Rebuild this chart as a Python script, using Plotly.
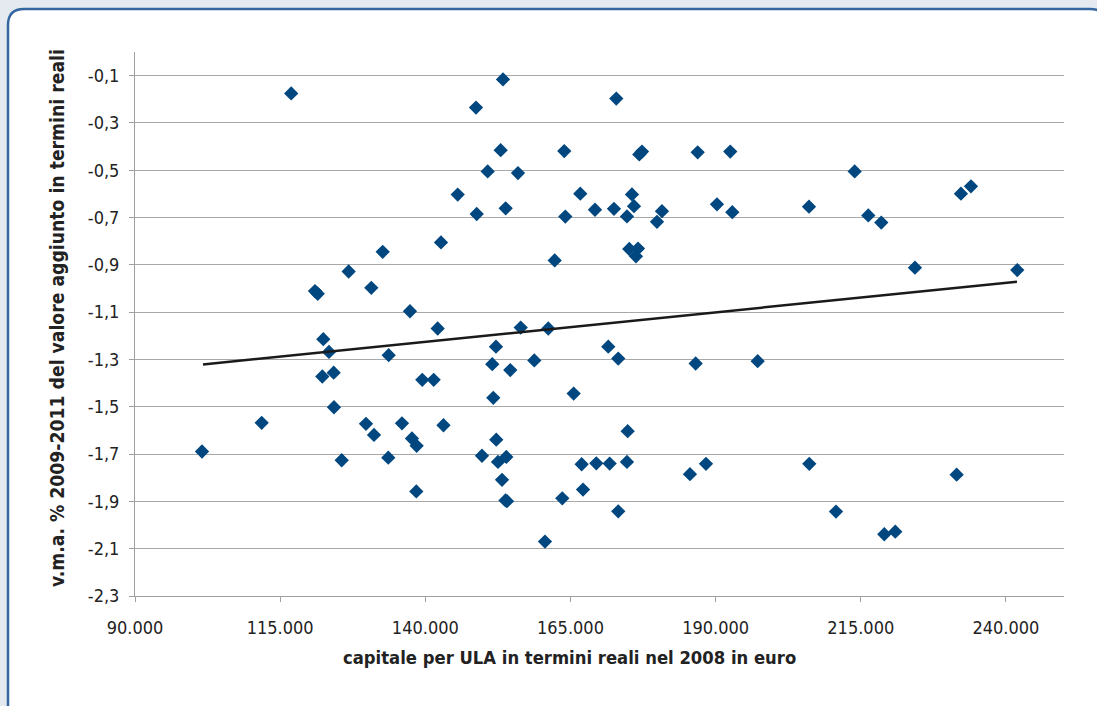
import plotly.graph_objects as go

# capitale per ULA (euro, 2008) and v.m.a. % 2009-2011
capitale = [116900, 121000, 121470, 126800, 132660, 130700, 137360, 142130, 142700,
            122430, 123410, 122260, 124220, 124270, 133690, 139480, 141440, 111820,
            101540, 129780, 131160, 135980, 137700, 138510, 125600, 133620, 138450,
            143130, 153380, 148730, 172890, 152980, 163930, 176850, 177320, 186910,
            192520, 150740, 155960, 145580, 166690, 175590, 148850, 153840, 164110,
            169220, 172490, 175940, 174730, 180760, 179900, 190230, 192870, 162280,
            175130, 176630, 176280, 156430, 161180, 152170, 151530, 154630, 158770,
            171510, 173230, 186560, 151710, 165550, 152220, 174850, 149760, 152520,
            153950, 166930, 169450, 171750, 174730, 185580, 188340, 153210, 167160,
            154070, 153810, 163590, 173230, 160610, 206080, 213950, 216290, 218530,
            232250, 233980, 224330, 241950, 197240, 206130, 210730, 219050, 220940,
            231510]
vma = [-0.175, -1.011, -1.022, -0.928, -0.845, -0.997, -1.096, -1.169, -0.805,
       -1.214, -1.268, -1.372, -1.356, -1.502, -1.282, -1.386, -1.386, -1.568,
       -1.689, -1.572, -1.619, -1.570, -1.634, -1.665, -1.726, -1.715, -1.858,
       -1.578, -0.116, -0.235, -0.197, -0.415, -0.419, -0.433, -0.421, -0.424,
       -0.421, -0.505, -0.512, -0.603, -0.599, -0.602, -0.685, -0.661, -0.696,
       -0.667, -0.663, -0.652, -0.695, -0.673, -0.718, -0.644, -0.677, -0.881,
       -0.833, -0.831, -0.864, -1.165, -1.169, -1.246, -1.320, -1.345, -1.304,
       -1.246, -1.296, -1.317, -1.462, -1.444, -1.639, -1.603, -1.707, -1.733,
       -1.712, -1.743, -1.739, -1.740, -1.733, -1.785, -1.741, -1.809, -1.850,
       -1.899, -1.896, -1.887, -1.942, -2.070, -0.654, -0.505, -0.691, -0.721,
       -0.599, -0.568, -0.912, -0.922, -1.307, -1.741, -1.943, -2.039, -2.028,
       -1.787]

trend_x = [101700, 241900]
trend_y = [-1.321, -0.971]

x_tickvals = [90000, 115000, 140000, 165000, 190000, 215000, 240000]
x_ticktext = ["90.000", "115.000", "140.000", "165.000", "190.000", "215.000", "240.000"]
y_tickvals = [-2.3, -2.1, -1.9, -1.7, -1.5, -1.3, -1.1, -0.9, -0.7, -0.5, -0.3, -0.1]
y_ticktext = ["-2,3", "-2,1", "-1,9", "-1,7", "-1,5", "-1,3", "-1,1", "-0,9", "-0,7",
              "-0,5", "-0,3", "-0,1"]

x_title = "capitale per ULA in termini reali nel 2008 in euro"
y_title = "v.m.a. % 2009-2011 del valore aggiunto in termini reali"

FONT = "DejaVu Sans Condensed, DejaVu Sans, sans-serif"
W, H = 1097, 706
L, R, T, B = 135, 33, 52, 110
PW, PH = W - L - R, H - T - B


def px(x):
    return (x - L) / PW


def py(y):
    return (H - B - y) / PH


fig = go.Figure()
fig.add_trace(go.Scatter(
    x=capitale, y=vma, mode="markers",
    marker=dict(symbol="diamond", size=11, color="#00477f", line=dict(width=0)),
    showlegend=False, hoverinfo="x+y"))
fig.add_trace(go.Scatter(
    x=trend_x, y=trend_y, mode="lines",
    line=dict(color="#1a1a1a", width=2.5), showlegend=False, hoverinfo="skip"))

# rounded frame
x0, x1, y0, y1 = px(8), px(1106), py(722), py(9)
rx, ry = 16 / PW, 16 / PH
path = (f"M {x0+rx},{y1} L {x1-rx},{y1} Q {x1},{y1} {x1},{y1-ry} "
        f"L {x1},{y0+ry} Q {x1},{y0} {x1-rx},{y0} L {x0+rx},{y0} "
        f"Q {x0},{y0} {x0},{y0+ry} L {x0},{y1-ry} Q {x0},{y1} {x0+rx},{y1} Z")
sx, sy = 2 / PW, -2 / PH
spath = (f"M {x0+rx+sx},{y1+sy} L {x1-rx+sx},{y1+sy} Q {x1+sx},{y1+sy} {x1+sx},{y1-ry+sy} "
         f"L {x1+sx},{y0+ry+sy} Q {x1+sx},{y0+sy} {x1-rx+sx},{y0+sy} L {x0+rx+sx},{y0+sy} "
         f"Q {x0+sx},{y0+sy} {x0+sx},{y0+ry+sy} L {x0+sx},{y1-ry+sy} Q {x0+sx},{y1+sy} {x0+rx+sx},{y1+sy} Z")

fig.update_layout(
    width=W, height=H,
    margin=dict(l=L, r=R, t=T, b=B, pad=0),
    paper_bgcolor="#e4eaf0", plot_bgcolor="white",
    font=dict(family=FONT, size=18, color="#222222"),
    shapes=[
        dict(type="path", path=spath, xref="paper", yref="paper", layer="below",
             line=dict(color="rgba(90,120,160,0.35)", width=6), fillcolor="rgba(0,0,0,0)"),
        dict(type="path", path=path, xref="paper", yref="paper", layer="below",
             line=dict(color="#3466a0", width=2.5), fillcolor="white"),
    ],
    annotations=[
        dict(text=f"<b>{x_title}</b>", xref="paper", yref="paper",
             x=px(569), y=py(657), xanchor="center", yanchor="middle",
             showarrow=False, font=dict(family=FONT, size=18.3, color="#222222")),
        dict(text=f"<b>{y_title}</b>", xref="paper", yref="paper",
             x=px(57), y=py(318), xanchor="center", yanchor="middle", textangle=-90,
             showarrow=False, font=dict(family=FONT, size=19.2, color="#222222")),
    ],
    xaxis=dict(range=[90000, 250000], tickvals=x_tickvals, ticktext=x_ticktext,
               showgrid=False, zeroline=False, showline=True, linecolor="#a0a0a0",
               linewidth=1, ticks="outside", ticklen=5, tickcolor="#a0a0a0",
               ticklabelstandoff=10, tickfont=dict(size=18), fixedrange=True),
    yaxis=dict(range=[-2.3, 0.0], tickvals=y_tickvals, ticktext=y_ticktext,
               showgrid=True, gridcolor="#a8a8a8", gridwidth=1, zeroline=False,
               showline=True, linecolor="#a0a0a0", linewidth=1, ticks="outside",
               ticklen=5, tickcolor="#a0a0a0", ticklabelstandoff=6,
               tickfont=dict(size=18), fixedrange=True),
)

fig.write_html("out.html")
